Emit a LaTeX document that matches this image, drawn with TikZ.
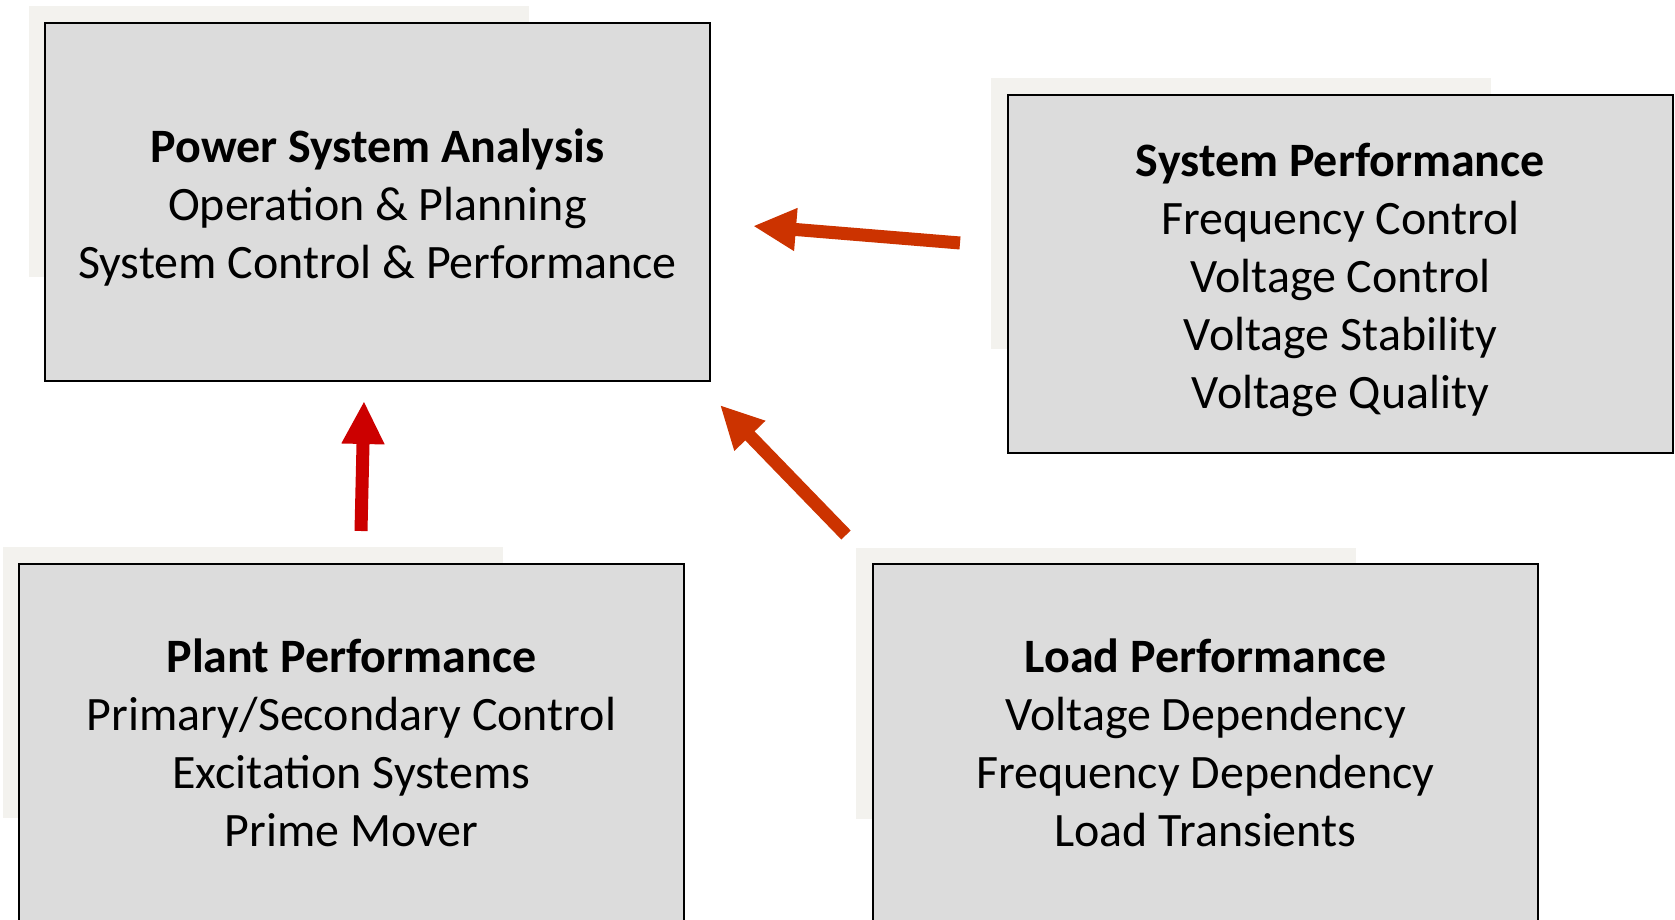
\documentclass[tikz,border=0pt]{standalone}
\usepackage{fontspec}
\setmainfont{Carlito}
\usepackage{xcolor}
\usepackage{tikz}
\usetikzlibrary{arrows.meta,positioning}

\definecolor{boxgray}{HTML}{DCDCDC}
\definecolor{shadebeige}{HTML}{F3F2EE}
\definecolor{arrowred}{HTML}{CC0000}
\definecolor{arroworange}{HTML}{CC3300}
\newcommand{\toppad}{\rule{0pt}{0.89cm}}

\begin{document}
\begin{tikzpicture}[
    block/.style={draw, line width=1.2pt, fill=boxgray, minimum width=13.3cm,
                  minimum height=7.16cm, inner sep=0pt, align=center,
                  font=\fontsize{27.3}{33}\selectfont},
    backshade/.style={fill=shadebeige},
    bigarrow/.style={line width=0.26cm, -{Triangle[width=0.8cm,length=0.86cm]}}
]
    \useasboundingbox (0,0) rectangle (33.5,18.38);

    % back panels
    \fill[backshade] (0.58,18.25) rectangle ++(10,-5.42);
    \fill[backshade] (19.82,16.82) rectangle ++(10,-5.42);
    \fill[backshade] (0.06,7.44) rectangle ++(10,-5.42);
    \fill[backshade] (17.12,7.42) rectangle ++(10,-5.42);

    \node[block] (psa) at (7.55,14.34) {\toppad\textbf{Power System Analysis}\\Operation \& Planning\\System Control \& Performance};
    \node[block] (sysperf) at (26.81,12.9) {\toppad\textbf{System Performance}\\Frequency Control\\Voltage Control\\Voltage Stability\\Voltage Quality};
    \node[block] (plant) at (7.03,3.52) {\textbf{Plant Performance}\\Primary/Secondary Control\\Excitation Systems\\Prime Mover};
    \node[block] (load) at (24.11,3.52) {\textbf{Load Performance}\\Voltage Dependency\\Frequency Dependency\\Load Transients};

    % arrow ends
    \coordinate (plant-out) at (7.22,7.76);
    \coordinate (psa-in1) at (7.28,10.36);
    \coordinate (load-out) at (16.92,7.68);
    \coordinate (psa-in2) at (14.4,10.28);
    \coordinate (sys-out) at (19.2,13.52);
    \coordinate (psa-in3) at (15.06,13.86);

    \draw[bigarrow, arrowred] (plant-out) -- (psa-in1);
    \draw[bigarrow, arroworange] (load-out) -- (psa-in2);
    \draw[bigarrow, arroworange] (sys-out) -- (psa-in3);
\end{tikzpicture}
\end{document}
